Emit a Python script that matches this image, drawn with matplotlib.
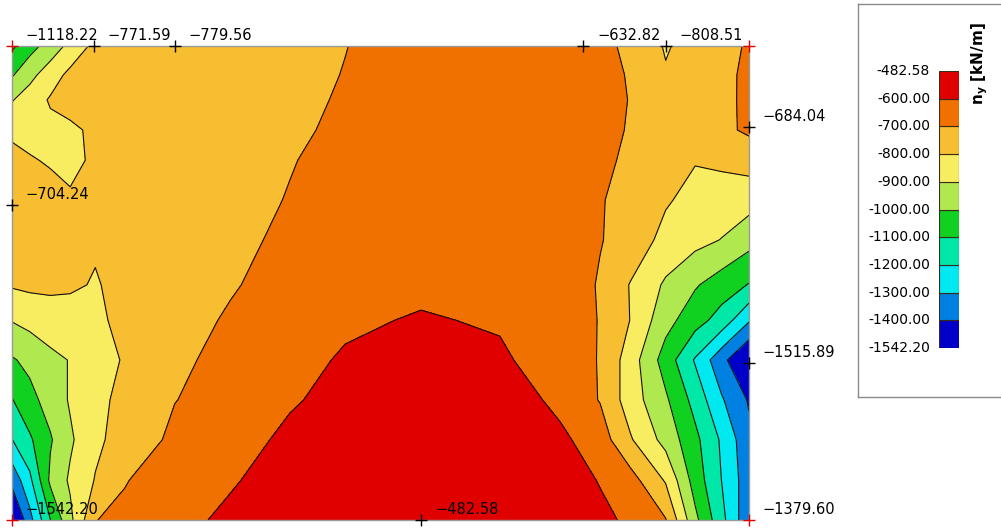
import numpy as np
import matplotlib
matplotlib.use("Agg")
from matplotlib import pyplot as plt

# result grid node coordinates [m]
x_nodes = [0.00, 0.24, 0.52, 0.79, 1.13, 1.53, 2.21, 2.96, 3.77, 4.52,
           5.55, 6.62, 7.44, 7.98, 8.39, 8.87, 9.27, 9.63, 10.00]
y_nodes = [6.43, 6.04, 5.70, 5.29, 4.88, 4.34, 3.80, 3.19, 2.71, 2.17,
           1.63, 1.09, 0.54, 0.00]

# n_y [kN/m] at the nodes, one row per y_nodes entry (top to bottom)
ny = [
    [-1118, -1038, -957, -872, -772, -776, -780, -760, -730, -702, -655, -640, -633, -665, -728, -808, -766, -729, -690],
    [-1010, -930, -848, -775, -768, -772, -775, -755, -727, -697, -650, -635, -630, -650, -712, -792, -760, -725, -680],
    [-906, -853, -790, -775, -768, -770, -770, -752, -725, -690, -645, -630, -625, -640, -706, -770, -760, -730, -675],
    [-830, -840, -825, -812, -788, -770, -765, -745, -718, -680, -640, -625, -620, -640, -715, -760, -765, -720, -685],
    [-755, -790, -812, -812, -792, -772, -762, -740, -705, -670, -630, -620, -615, -670, -725, -755, -795, -780, -760],
    [-705, -725, -755, -794, -798, -775, -760, -735, -695, -660, -620, -610, -625, -693, -735, -790, -830, -850, -860],
    [-740, -750, -765, -775, -792, -780, -760, -725, -680, -645, -610, -605, -620, -695, -740, -830, -870, -903, -965],
    [-790, -780, -785, -790, -805, -780, -750, -708, -665, -630, -620, -605, -630, -710, -805, -915, -990, -1050, -1105],
    [-895, -870, -835, -830, -815, -780, -735, -690, -650, -615, -592, -610, -640, -705, -802, -965, -1060, -1140, -1290],
    [-1010, -975, -930, -895, -850, -790, -720, -670, -630, -590, -560, -585, -650, -705, -850, -1045, -1210, -1370, -1515],
    [-1105, -1030, -960, -890, -830, -770, -702, -665, -610, -570, -530, -540, -625, -705, -850, -985, -1135, -1290, -1410],
    [-1202, -1115, -1010, -915, -820, -760, -680, -640, -580, -545, -510, -520, -580, -650, -790, -935, -1075, -1215, -1375],
    [-1370, -1225, -980, -885, -795, -705, -650, -610, -555, -520, -490, -500, -555, -605, -660, -810, -1045, -1202, -1360],
    [-1542.20, -1335, -1102, -925, -702, -680, -630, -580, -540, -510, -482.58, -500, -540, -580, -615, -695, -975, -1170, -1379.60],
]

levels = [-1542.20, -1400, -1300, -1200, -1100, -1000, -900, -800, -700, -600, -482.58]
band_colors = ["#0000c8", "#0080e0", "#00e8f0", "#00e8a8", "#10d020",
               "#b0e850", "#f8ec60", "#f6be30", "#f07000", "#e00000"]

# marked extreme values
ext_x = [0.00, 1.11, 2.21, 7.75, 8.87, 10.00, 0.00, 10.00, 10.00, 5.55, 0.00, 10.00]
ext_y = [6.43, 6.43, 6.43, 6.43, 6.43, 6.43, 4.27, 5.33, 2.13, 0.00, 0.00, 0.00]
ext_val = [-1118.22, -771.59, -779.56, -632.82, -808.51, None, -704.24,
           -684.04, -1515.89, -482.58, -1542.20, -1379.60]
ext_red = [True, False, False, False, False, True, False, False, False, False, True, True]

W, H = 1001, 529
fig = plt.figure(figsize=(W / 100, H / 100), dpi=100)
ax = fig.add_axes([12 / W, 9 / H, 737 / W, 474 / H])

X, Y = np.meshgrid(x_nodes, y_nodes)
Z = np.array(ny)
ax.contourf(X, Y, Z, levels=levels, colors=band_colors)
ax.contour(X, Y, Z, levels=levels[1:-1], colors="#111111", linewidths=0.8,
           linestyles="solid")

ax.set_xlim(0, 10.0)
ax.set_ylim(0, 6.43)
ax.set_xticks([])
ax.set_yticks([])
for s in ax.spines.values():
    s.set_color("#9a9a9a")
    s.set_linewidth(1.0)

for x, y, v, red in zip(ext_x, ext_y, ext_val, ext_red):
    ax.plot(x, y, marker="+", ms=9, mew=1.0, color="#e00000" if red else "black",
            clip_on=False, zorder=5)
    if v is not None:
        ax.annotate(f"{v:.2f}".replace("-", "\u2212"), (x, y), xytext=(10, 7.5),
                    textcoords="offset points", ha="left", va="center",
                    fontsize=10.5, color="black", annotation_clip=False, zorder=6)

# legend box
box = fig.add_axes([858 / W, (H - 397) / H, 150 / W, 393 / H])
box.set_xticks([])
box.set_yticks([])
for s in box.spines.values():
    s.set_color("#8a8a8a")
    s.set_linewidth(1.0)

cax = fig.add_axes([939 / W, (H - 348) / H, 20 / W, 277 / H])
for i, c in enumerate(band_colors):
    cax.bar(0, 1, bottom=i, width=1, color=c, edgecolor="#3a2a1a", linewidth=0.8)
cax.set_xlim(-0.5, 0.5)
cax.set_ylim(0, len(band_colors))
cax.axis("off")
for i, lv in enumerate(levels):
    cax.text(-0.5 - 9 / 20, i, f"{lv:.2f}", ha="right", va="center", fontsize=10,
             clip_on=False)
fig.text(980 / W, (H - 64) / H, "n$_\\mathregular{y}$ [kN/m]", rotation=90,
         ha="center", va="center", fontsize=11, fontweight="bold")

fig.savefig("out.png", dpi=100)
